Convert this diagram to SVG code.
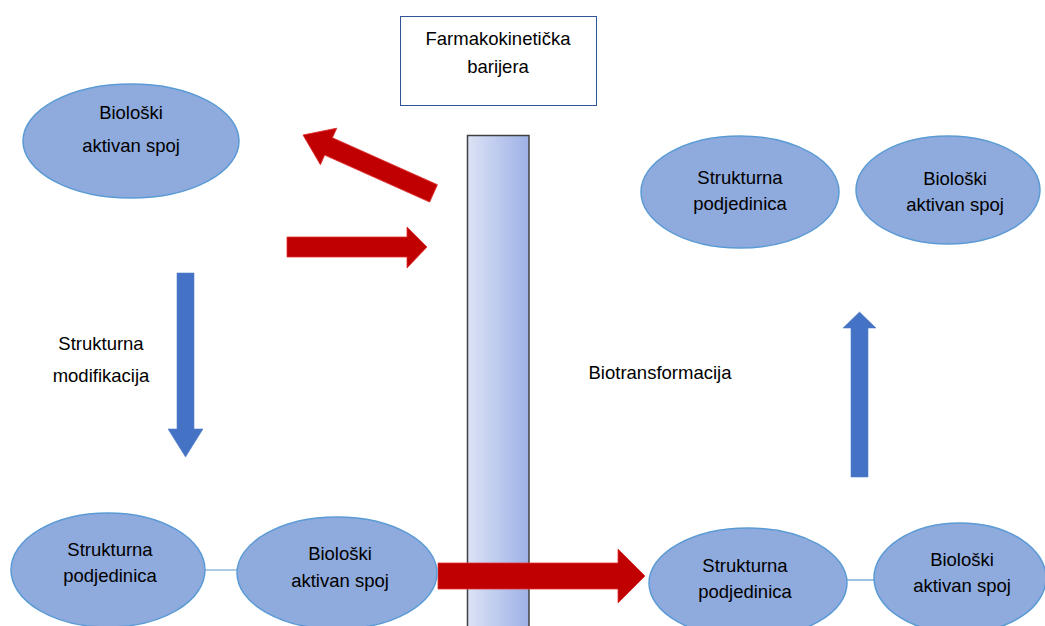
<svg xmlns="http://www.w3.org/2000/svg" width="1045" height="626" viewBox="0 0 1045 626">
<defs>
<linearGradient id="barGrad" x1="0" y1="0" x2="1" y2="0">
<stop offset="0" stop-color="#dde3f6"/>
<stop offset="1" stop-color="#9db1e6"/>
</linearGradient>
<style>
.ell{fill:#8faadc;stroke:#5b9bd5;stroke-width:1.5}
.t{font-family:"Liberation Sans",Arial,sans-serif;font-size:18.5px;fill:#000;text-anchor:middle}
.red{fill:#c00000;stroke:#e03030;stroke-width:0.8}
.blue{fill:#4472c4;stroke:#5580cc;stroke-width:0.6}
.link{stroke:#5b9bd5;stroke-width:1.2;fill:none}
</style>
</defs>
<rect width="1045" height="626" fill="#fff"/>

<g id="barrier">
<rect x="467.5" y="135.5" width="61.5" height="500" fill="url(#barGrad)" stroke="#404040" stroke-width="1.5"/>
</g>

<g id="barrier-label">
<rect x="400.5" y="16.5" width="196" height="89" fill="#fff" stroke="#2f5597" stroke-width="1"/>
<text class="t" x="498" y="45">Farmakokinetička</text>
<text class="t" x="498" y="73">barijera</text>
</g>

<g id="connectors">
<line class="link" x1="204" y1="570" x2="238" y2="570"/>
<line class="link" x1="847" y1="580" x2="875" y2="580"/>
<polygon class="red" transform="translate(303,135) rotate(24.1)" points="0,0 28,-20 28,-9.5 143,-9.5 143,9.5 28,9.5 28,20"/>
<polygon class="red" points="287,237 407,237 407,227 427,247 407,268 407,257 287,257"/>
<polygon class="red" points="438,563 618,563 618,549 645,576 618,603 618,589 438,589"/>
<polygon class="blue" points="177,273 194,273 194,429 203,429 185.5,457 168,429 177,429"/>
<polygon class="blue" points="851,477 868,477 868,328 876,328 859.5,312 843,328 851,328"/>
</g>

<g id="node-top-left">
<ellipse class="ell" cx="131" cy="141" rx="108" ry="57"/>
<text class="t" x="131" y="119">Biološki</text>
<text class="t" x="131" y="152">aktivan spoj</text>
</g>

<g id="node-top-right-sub">
<ellipse class="ell" cx="740" cy="192" rx="99" ry="56"/>
<text class="t" x="740" y="184">Strukturna</text>
<text class="t" x="740" y="210">podjedinica</text>
</g>

<g id="node-top-right-active">
<ellipse class="ell" cx="948" cy="190" rx="92" ry="54"/>
<text class="t" x="955" y="185">Biološki</text>
<text class="t" x="955" y="211">aktivan spoj</text>
</g>

<g id="node-bottom-left-sub">
<ellipse class="ell" cx="108" cy="570" rx="97" ry="57"/>
<text class="t" x="110" y="556">Strukturna</text>
<text class="t" x="110" y="582">podjedinica</text>
</g>

<g id="node-bottom-left-active">
<ellipse class="ell" cx="337" cy="573" rx="100" ry="56"/>
<text class="t" x="340" y="560">Biološki</text>
<text class="t" x="340" y="587">aktivan spoj</text>
</g>

<g id="node-bottom-right-sub">
<ellipse class="ell" cx="748" cy="583" rx="99" ry="55"/>
<text class="t" x="745" y="572">Strukturna</text>
<text class="t" x="745" y="598">podjedinica</text>
</g>

<g id="node-bottom-right-active">
<ellipse class="ell" cx="960" cy="578" rx="86" ry="55"/>
<text class="t" x="962" y="566">Biološki</text>
<text class="t" x="962" y="592">aktivan spoj</text>
</g>

<g id="label-modification">
<text class="t" x="101" y="350">Strukturna</text>
<text class="t" x="101" y="382">modifikacija</text>
</g>

<g id="label-biotransformation">
<text class="t" x="660" y="379">Biotransformacija</text>
</g>
</svg>
